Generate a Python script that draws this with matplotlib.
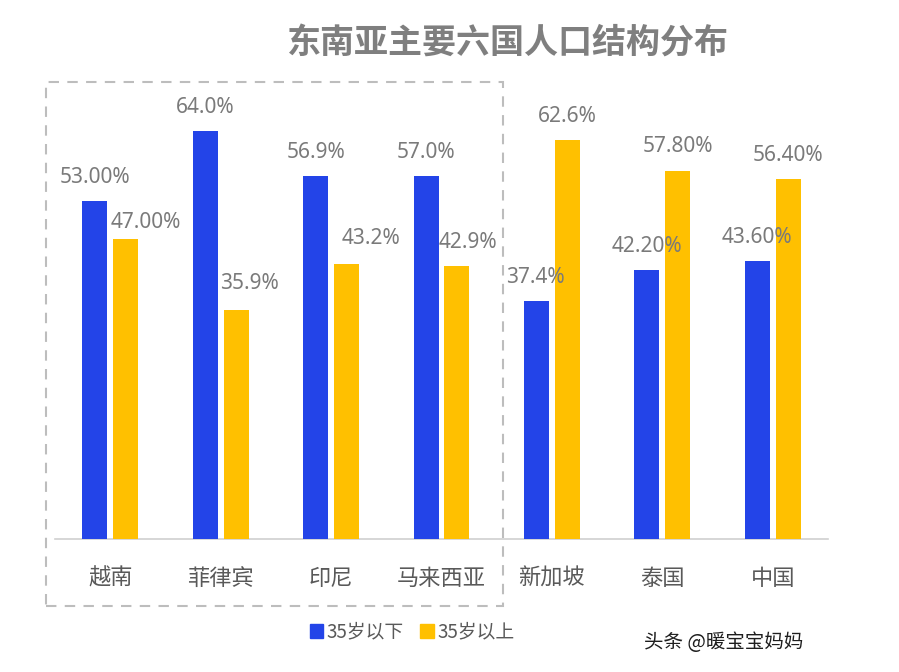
import matplotlib
matplotlib.use("Agg")
import matplotlib.pyplot as plt
from matplotlib.patches import Rectangle, Patch

plt.rcParams['font.family'] = ['Noto Sans CJK SC', 'DejaVu Sans']

# ---- data ----
categories = ["越南", "菲律宾", "印尼", "马来西亚", "新加坡", "泰国", "中国"]
under35 = [53.0, 64.0, 56.9, 57.0, 37.4, 42.2, 43.6]
over35 = [47.0, 35.9, 43.2, 42.9, 62.6, 57.8, 56.4]
under35_decimals = [2, 1, 1, 1, 1, 2, 2]
over35_decimals = [2, 1, 1, 1, 1, 2, 2]
series_names = ["35岁以下", "35岁以上"]
title = "东南亚主要六国人口结构分布"
watermark = "头条 @暖宝宝妈妈"

# ---- style / layout ----
W, H, DPI = 899, 672, 100
BLUE = "#2344E8"
YELLOW = "#FFC000"
LABEL_GRAY = "#7a7a7a"
TICK_GRAY = "#595959"
# label offsets in pixels (dx, dy) relative to bar top centre
under_off = [(0, 18), (0, 18), (0, 18), (0, 18), (-1, 18), (0, 18), (0, 18)]
over_off = [(20, 11), (13, 21), (24, 20), (11, 18), (0, 18), (0, 19), (0, 18)]

fig = plt.figure(figsize=(W / DPI, H / DPI), dpi=DPI)
ymax = 70
px_per_unit = 6.375
ax_left, ax_right, ax_base = 55, 828, 539
ax_h = ymax * px_per_unit
ax = fig.add_axes([ax_left / W, (H - ax_base) / H, (ax_right - ax_left) / W, ax_h / H])

n = len(categories)
x = list(range(n))
bw = 25 / 110.5
shift = 15.5 / 110.5
xb = [i - shift for i in x]
xy = [i + shift for i in x]
ax.bar(xb, under35, width=bw, color=BLUE, label=series_names[0], zorder=3)
ax.bar(xy, over35, width=bw, color=YELLOW, label=series_names[1], zorder=3)

ax.set_xlim(-0.5, n - 0.5)
ax.set_ylim(0, ymax)
for s in ["top", "right", "left"]:
    ax.spines[s].set_visible(False)
ax.spines["bottom"].set_color("#d0d0d0")
ax.spines["bottom"].set_linewidth(1.2)
ax.set_yticks([])
ax.set_xticks(x)
ax.set_xticklabels(categories, fontsize=16, color=TICK_GRAY)
ax.tick_params(axis="x", length=0, pad=20)

for xs, vals, decs, offs in [(xb, under35, under35_decimals, under_off),
                              (xy, over35, over35_decimals, over_off)]:
    for xi, v, d, (dx, dy) in zip(xs, vals, decs, offs):
        ax.annotate(f"{v:.{d}f}%", xy=(xi, v), xytext=(dx, dy),
                    textcoords="offset pixels", ha="center", va="baseline",
                    fontsize=15, color=LABEL_GRAY, family=["Noto Sans", "DejaVu Sans"])

# dashed grouping box
fig.patches.append(Rectangle((46 / W, (H - 606) / H), (503 - 46) / W, (606 - 82) / H,
                             transform=fig.transFigure, fill=False, edgecolor="#bdbdbd",
                             linestyle=(0, (5, 4)), linewidth=1.5))

fig.text(507.5 / W, 1 - 43 / H, title, ha="center", va="center", fontsize=24.5,
         fontweight="bold", color="#7f7f7f")

handles = [Patch(color=BLUE), Patch(color=YELLOW)]
fig.legend(handles, series_names, loc="center", bbox_to_anchor=(412 / W, 1 - 632 / H),
           ncol=2, frameon=False, handlelength=0.7, handleheight=0.7,
           handletextpad=0.2, columnspacing=0.9, fontsize=13.5,
           labelcolor=TICK_GRAY)

fig.text(724 / W, 1 - 642 / H, watermark, ha="center", va="center", fontsize=14,
         color="#1e1e1e")

fig.savefig("out.png", dpi=DPI)
